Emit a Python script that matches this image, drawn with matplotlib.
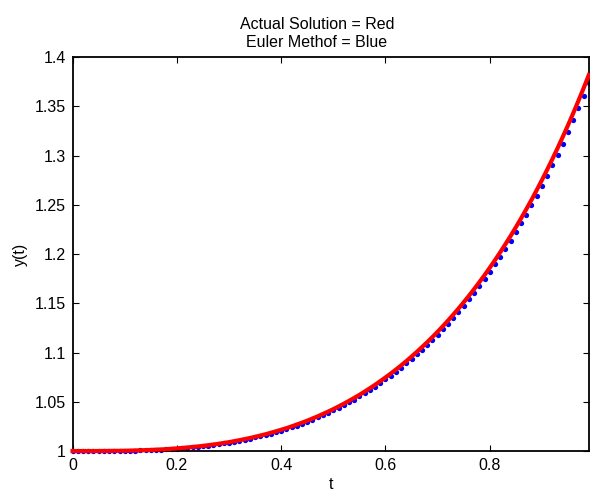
import matplotlib
matplotlib.use("Agg")
import matplotlib.pyplot as plt
from matplotlib.ticker import FuncFormatter

plt.rcParams['font.family'] = ['Liberation Sans', 'DejaVu Sans']

t = [0.00, 0.01, 0.02, 0.03, 0.04, 0.05, 0.06, 0.07, 0.08, 0.09,
     0.10, 0.11, 0.12, 0.13, 0.14, 0.15, 0.16, 0.17, 0.18, 0.19,
     0.20, 0.21, 0.22, 0.23, 0.24, 0.25, 0.26, 0.27, 0.28, 0.29,
     0.30, 0.31, 0.32, 0.33, 0.34, 0.35, 0.36, 0.37, 0.38, 0.39,
     0.40, 0.41, 0.42, 0.43, 0.44, 0.45, 0.46, 0.47, 0.48, 0.49,
     0.50, 0.51, 0.52, 0.53, 0.54, 0.55, 0.56, 0.57, 0.58, 0.59,
     0.60, 0.61, 0.62, 0.63, 0.64, 0.65, 0.66, 0.67, 0.68, 0.69,
     0.70, 0.71, 0.72, 0.73, 0.74, 0.75, 0.76, 0.77, 0.78, 0.79,
     0.80, 0.81, 0.82, 0.83, 0.84, 0.85, 0.86, 0.87, 0.88, 0.89,
     0.90, 0.91, 0.92, 0.93, 0.94, 0.95, 0.96, 0.97, 0.98, 0.99]

actual = [1.0000, 1.0000, 1.0000, 1.0000, 1.0000, 1.0000, 1.0001, 1.0001, 1.0002, 1.0002,
          1.0003, 1.0004, 1.0006, 1.0007, 1.0009, 1.0011, 1.0014, 1.0016, 1.0019, 1.0023,
          1.0027, 1.0031, 1.0036, 1.0041, 1.0046, 1.0052, 1.0059, 1.0066, 1.0073, 1.0082,
          1.0090, 1.0100, 1.0110, 1.0121, 1.0132, 1.0144, 1.0157, 1.0170, 1.0185, 1.0200,
          1.0216, 1.0232, 1.0250, 1.0269, 1.0288, 1.0308, 1.0330, 1.0352, 1.0376, 1.0400,
          1.0425, 1.0452, 1.0480, 1.0509, 1.0539, 1.0570, 1.0603, 1.0637, 1.0672, 1.0709,
          1.0747, 1.0786, 1.0827, 1.0869, 1.0913, 1.0959, 1.1006, 1.1055, 1.1105, 1.1157,
          1.1211, 1.1267, 1.1325, 1.1385, 1.1446, 1.1510, 1.1576, 1.1644, 1.1714, 1.1786,
          1.1861, 1.1938, 1.2018, 1.2100, 1.2184, 1.2272, 1.2362, 1.2455, 1.2550, 1.2649,
          1.2751, 1.2856, 1.2964, 1.3075, 1.3190, 1.3308, 1.3430, 1.3556, 1.3685, 1.3819]

euler = [1.0000, 1.0000, 1.0000, 1.0000, 1.0000, 1.0000, 1.0001, 1.0001, 1.0001, 1.0002,
         1.0003, 1.0004, 1.0005, 1.0006, 1.0008, 1.0010, 1.0012, 1.0015, 1.0018, 1.0021,
         1.0025, 1.0029, 1.0033, 1.0038, 1.0043, 1.0049, 1.0055, 1.0062, 1.0070, 1.0077,
         1.0086, 1.0095, 1.0105, 1.0115, 1.0126, 1.0138, 1.0150, 1.0163, 1.0177, 1.0192,
         1.0207, 1.0224, 1.0241, 1.0259, 1.0278, 1.0298, 1.0319, 1.0341, 1.0363, 1.0387,
         1.0412, 1.0438, 1.0465, 1.0494, 1.0523, 1.0554, 1.0586, 1.0619, 1.0653, 1.0689,
         1.0727, 1.0765, 1.0805, 1.0847, 1.0890, 1.0934, 1.0981, 1.1028, 1.1078, 1.1129,
         1.1182, 1.1237, 1.1294, 1.1352, 1.1413, 1.1475, 1.1540, 1.1606, 1.1675, 1.1746,
         1.1819, 1.1895, 1.1973, 1.2054, 1.2137, 1.2222, 1.2311, 1.2402, 1.2495, 1.2592,
         1.2692, 1.2795, 1.2901, 1.3010, 1.3122, 1.3238, 1.3358, 1.3481, 1.3608, 1.3739]

xticks = [0, 0.2, 0.4, 0.6, 0.8]
yticks = [1.0, 1.05, 1.1, 1.15, 1.2, 1.25, 1.3, 1.35, 1.4]

fig = plt.figure(figsize=(5.9, 4.96), dpi=100)
ax = fig.add_axes([0.123, 0.0907, 0.875, 0.794])

ax.plot(t, euler, linestyle='none', marker='o', markersize=3.8,
        markerfacecolor=(0, 0, 1), markeredgecolor='none', clip_on=False, zorder=2)
ax.plot(t, actual, color=(1, 0, 0), linewidth=3.0, solid_capstyle='projecting',
        clip_on=False, zorder=3)

ax.set_xlim(0, 0.99)
ax.set_ylim(1.0, 1.4)
ax.set_xticks(xticks)
ax.set_yticks(yticks)
fmt = FuncFormatter(lambda v, p: ('%g' % round(v, 4)))
ax.xaxis.set_major_formatter(fmt)
ax.yaxis.set_major_formatter(fmt)

ax.tick_params(direction='in', length=4, width=0.8, top=True, right=True,
               labelsize=11.5, colors='black', pad=5)
for s in ax.spines.values():
    s.set_linewidth(1.3)
    s.set_color('black')

ax.set_title('Actual Solution = Red\nEuler Methof = Blue', fontsize=11.5, pad=7,
             linespacing=1.25, x=0.473)
ax.set_xlabel('t', fontsize=11.5, labelpad=3)
ax.set_ylabel('y(t)', fontsize=11.5, labelpad=5)

fig.savefig('out.png', dpi=100)
